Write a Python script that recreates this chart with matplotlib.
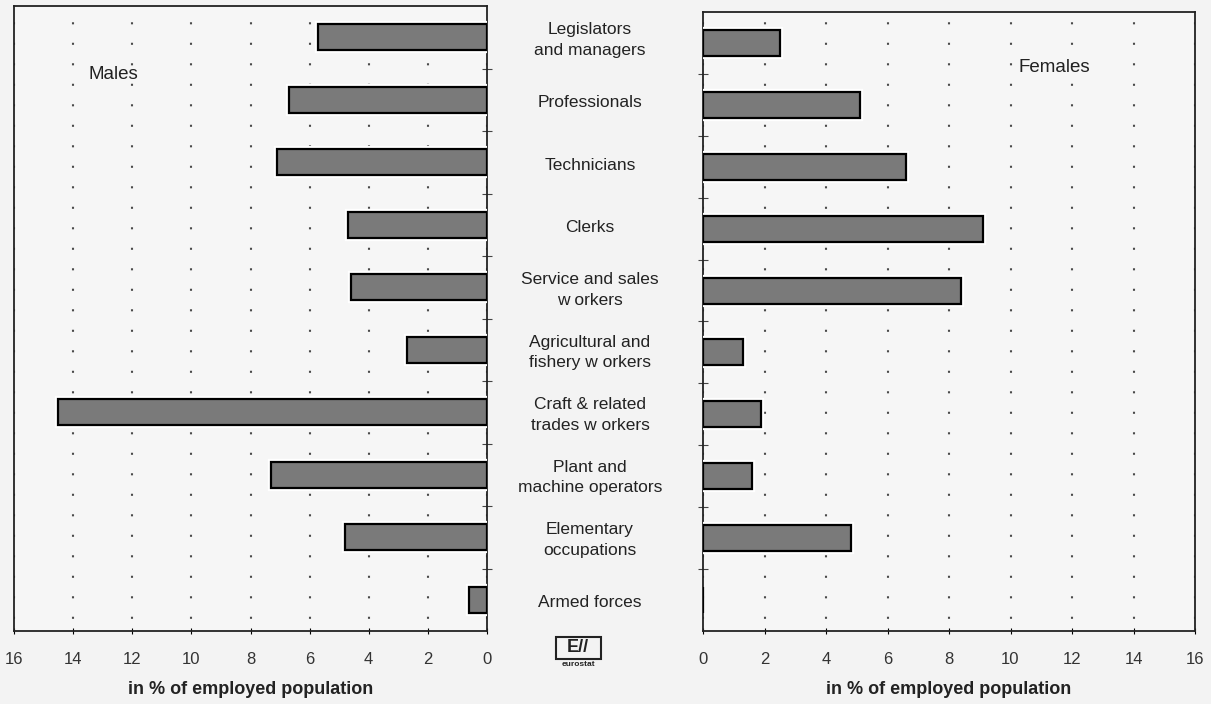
import matplotlib.pyplot as plt
import matplotlib.patheffects as pe
import numpy as np
from matplotlib.patches import Rectangle

plt.rcParams["font.family"] = ["Liberation Sans", "DejaVu Sans"]

occupations = [
    "Legislators\nand managers",
    "Professionals",
    "Technicians",
    "Clerks",
    "Service and sales\nw orkers",
    "Agricultural and\nfishery w orkers",
    "Craft & related\ntrades w orkers",
    "Plant and\nmachine operators",
    "Elementary\noccupations",
    "Armed forces",
]
males = [5.7, 6.7, 7.1, 4.7, 4.6, 2.7, 14.5, 7.3, 4.8, 0.6]
females = [2.5, 5.1, 6.6, 9.1, 8.4, 1.3, 1.9, 1.6, 4.8, 0.0]
x_ticks = [0, 2, 4, 6, 8, 10, 12, 14, 16]
xlabel = "in % of employed population"

bg = "#f3f3f3"
bar_col = "#7a7a7a"
W, H = 1211, 704

fig = plt.figure(figsize=(W / 100, H / 100), dpi=100, facecolor=bg)
ax_m = fig.add_axes([14 / W, 1 - 631 / H, 473 / W, 625 / H])
ax_f = fig.add_axes([703 / W, 1 - 631 / H, 492 / W, 619 / H])

y = np.arange(len(occupations))
halo = [pe.Stroke(linewidth=4.5, foreground="white"), pe.Normal()]

for ax, vals in [(ax_m, males), (ax_f, females)]:
    ax.set_facecolor("#f6f6f6")
    bars = ax.barh(y, vals, height=0.42, color=bar_col, edgecolor="black",
                   linewidth=1.6, zorder=3)
    for b in bars:
        if b.get_width() > 0:
            b.set_path_effects(halo)
    ax.set_xlim(0, 16)
    ax.set_ylim(len(occupations) - 0.5, -0.5)
    ax.set_xticks(x_ticks)
    ax.set_xticklabels([str(t) for t in x_ticks], fontsize=12, color="#333333")
    ax.tick_params(axis="x", length=4, direction="inout", pad=13)
    ax.set_yticks(np.arange(len(occupations) - 1) + 0.5)
    ax.set_yticklabels([])
    ax.tick_params(axis="y", length=7, direction="inout", color="#444444")
    ax.grid(axis="x", color="#4a4a4a", linewidth=1.5,
            linestyle=(4, (1, 8.84)), zorder=1)
    for s in ax.spines.values():
        s.set_color("#222222")
        s.set_linewidth(1.3)
    ax.set_xlabel(xlabel, fontsize=13, fontweight="bold", labelpad=10,
                  color="#222222")

ax_m.invert_xaxis()
ax_m.yaxis.tick_right()
ax_f.yaxis.tick_left()

ax_m.text(0.21, 0.891, "Males", transform=ax_m.transAxes, fontsize=13.5,
          ha="center", va="center", color="#222222")
ax_f.text(0.715, 0.911, "Females", transform=ax_f.transAxes, fontsize=13.5,
          ha="center", va="center", color="#222222")

# category names in the gap between the two panels
for i, name in enumerate(occupations):
    yy = ax_m.transData.transform((0, i))[1]
    fig.text(590 / W, yy / H - 0.004, name, ha="center", va="center",
             fontsize=12.5, linespacing=1.45, color="#222222")

# eurostat logo
fig.patches.append(Rectangle((556 / W, 1 - 659 / H), 45 / W, 22 / H,
                             transform=fig.transFigure, fill=False,
                             edgecolor="#222222", linewidth=1.5))
fig.text(578 / W, 1 - 648 / H, "E//", ha="center", va="center",
         fontsize=13, fontweight="bold", color="#222222")
fig.text(578 / W, 1 - 665 / H, "eurostat", ha="center", va="center",
         fontsize=6, fontweight="bold", color="#222222")

fig.savefig("out.png", dpi=100, facecolor=bg)
